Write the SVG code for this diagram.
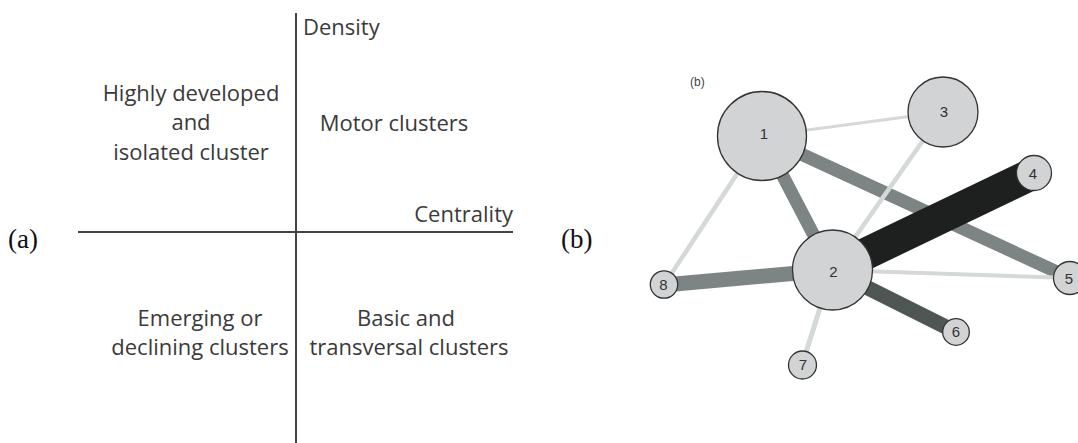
<svg xmlns="http://www.w3.org/2000/svg" width="1078" height="443" viewBox="0 0 1078 443">
  <style>
    .axis { stroke: #444; stroke-width: 2; fill: none; }
    .qtxt { font-family: "Open Sans", "Liberation Sans", sans-serif; font-size: 22px; fill: #3a3a3a; }
    .panel { font-family: "Liberation Serif", serif; font-size: 27px; fill: #111; }
    .edge { fill: none; stroke-linecap: butt; }
    .light { stroke: #d4d8d8; }
    .mid { stroke: #7c8583; stroke-width: 13; }
    .dark { stroke: #4f5755; stroke-width: 15; }
    .heavy { stroke: #1d201e; stroke-width: 32; stroke-linecap: round; }
    .node circle { fill: #d1d3d4; stroke: #333; stroke-width: 1.3; }
    .node text { font-family: "Liberation Sans", Arial, sans-serif; font-size: 15px; fill: #333; text-anchor: middle; }
    .small { font-family: "Liberation Sans", Arial, sans-serif; font-size: 12px; fill: #444; }
  </style>
  <rect width="1078" height="443" fill="#fff"/>

  <!-- (a) strategic diagram: density vs. centrality quadrants -->
  <g id="quadrant">
    <line class="axis" x1="296" y1="13" x2="296" y2="443"/>
    <line class="axis" x1="78" y1="232" x2="513" y2="232"/>
    <text class="qtxt" x="303" y="35">Density</text>
    <text class="qtxt" x="513" y="222" text-anchor="end">Centrality</text>
    <g text-anchor="middle" class="qtxt">
      <text x="191" y="101">Highly developed</text>
      <text x="191" y="130">and</text>
      <text x="191" y="160">isolated cluster</text>
      <text x="394" y="131">Motor clusters</text>
      <text x="200" y="326">Emerging or</text>
      <text x="200" y="355">declining clusters</text>
      <text x="406" y="326">Basic and</text>
      <text x="409" y="355">transversal clusters</text>
    </g>
  </g>
  <text class="panel" x="8" y="248">(a)</text>
  <text class="panel" x="561" y="248">(b)</text>

  <!-- (b) cluster network -->
  <text class="small" x="690" y="86">(b)</text>
  <g id="connectors">
    <line class="edge mid" x1="762" y1="136" x2="1070" y2="278"/>
    <line class="edge mid" x1="762" y1="136" x2="832" y2="270"/>
    <line class="edge mid" x1="832" y1="270" x2="664" y2="285" style="stroke-width:15"/>
    <line class="edge dark" x1="832" y1="270" x2="956" y2="332"/>
    <line class="edge light" x1="762" y1="136" x2="943" y2="112" stroke-width="3"/>
    <line class="edge light" x1="943" y1="112" x2="832" y2="270" stroke-width="4.5"/>
    <line class="edge light" x1="762" y1="136" x2="664" y2="285" stroke-width="4.5"/>
    <line class="edge light" x1="832" y1="270" x2="1070" y2="278" stroke-width="4"/>
    <line class="edge light" x1="832" y1="270" x2="802" y2="365" stroke-width="5"/>
    <line class="edge heavy" x1="832" y1="270" x2="1034" y2="173"/>
  </g>
  <g id="node1" class="node"><circle cx="762" cy="136" r="44.5"/><text x="764" y="139">1</text></g>
  <g id="node2" class="node"><circle cx="832.5" cy="270" r="40"/><text x="833.5" y="277">2</text></g>
  <g id="node3" class="node"><circle cx="943" cy="112" r="35"/><text x="944" y="117">3</text></g>
  <g id="node4" class="node"><circle cx="1034" cy="173" r="17.5"/><text x="1033" y="179">4</text></g>
  <g id="node5" class="node"><circle cx="1070" cy="278" r="16.5"/><text x="1069" y="284">5</text></g>
  <g id="node6" class="node"><circle cx="956" cy="332" r="13.3"/><text x="956" y="337">6</text></g>
  <g id="node7" class="node"><circle cx="802.5" cy="365" r="14"/><text x="803" y="370">7</text></g>
  <g id="node8" class="node"><circle cx="664" cy="284.5" r="13.7"/><text x="663.5" y="290">8</text></g>
</svg>
